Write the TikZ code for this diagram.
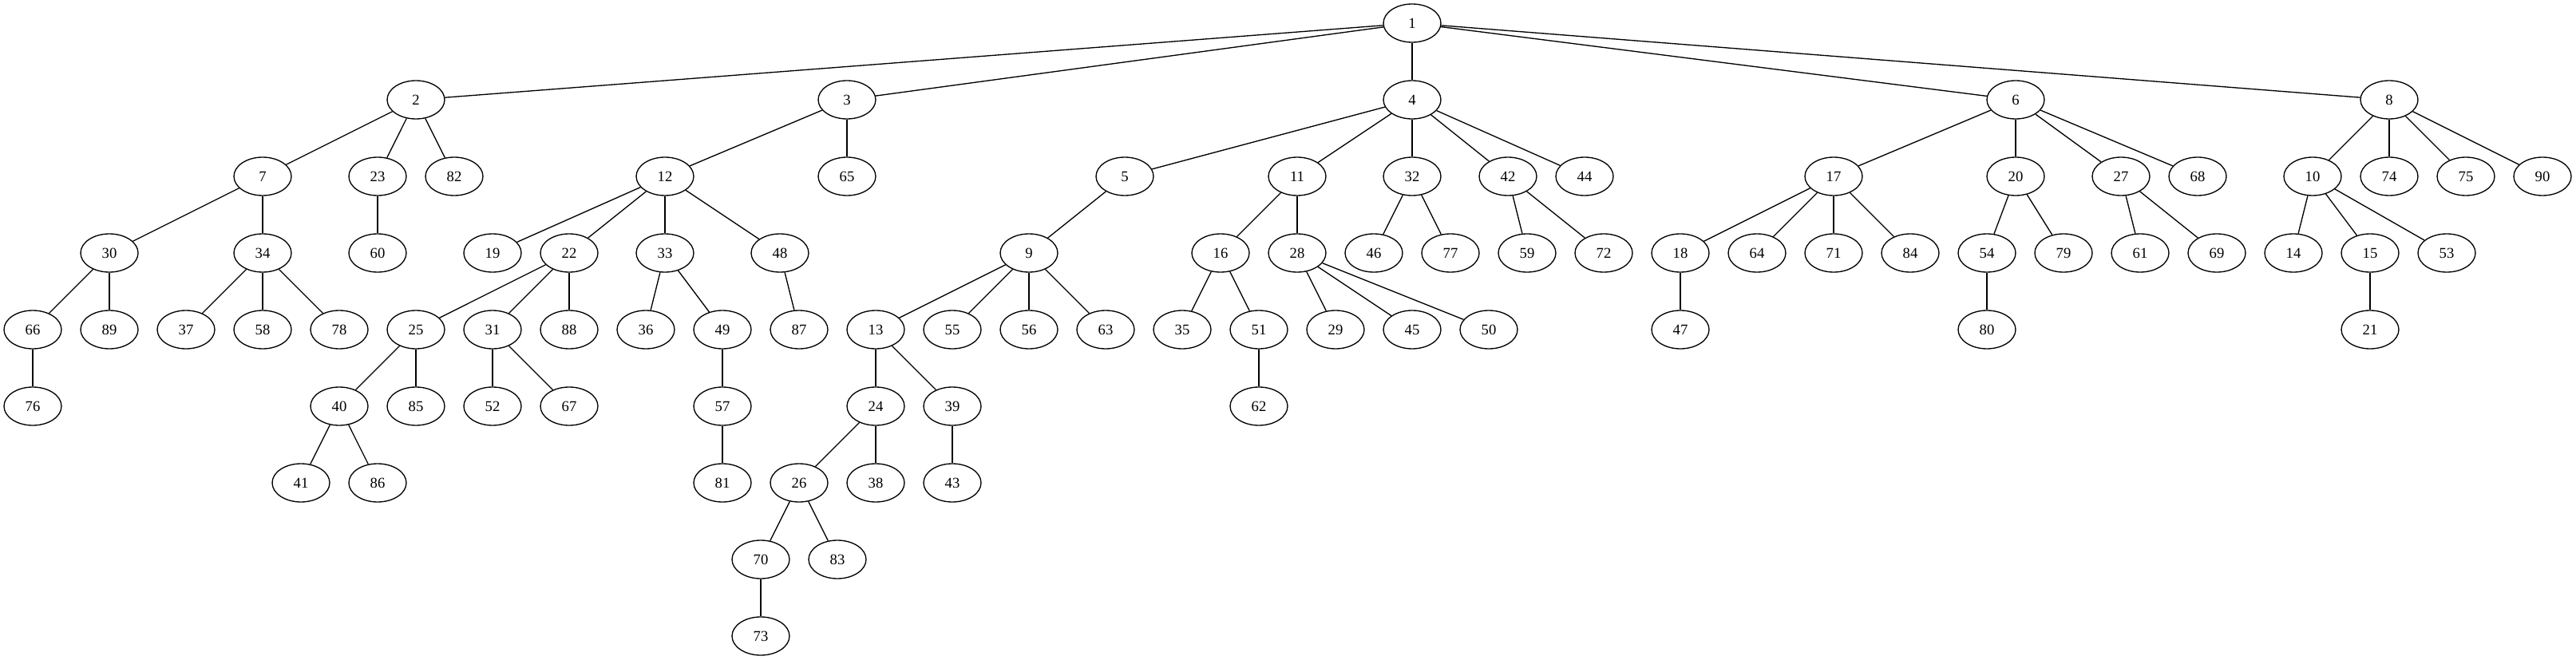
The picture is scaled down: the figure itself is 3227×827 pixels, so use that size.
\documentclass[tikz,border=0pt]{standalone}
\usepackage{fontspec}
\setmainfont{Liberation Serif}
\usetikzlibrary{shapes.geometric}
\begin{document}
\begin{tikzpicture}[x=0.75pt,y=-0.75pt,
  nd/.style={draw,ellipse,line width=1pt,minimum width=54pt,minimum height=36pt,inner sep=0pt,font=\fontsize{14}{16}\selectfont},
  ed/.style={line width=1pt}]
\useasboundingbox (0,0) rectangle (3227,827);
\foreach \n/\x/\r in {
 1/1769/0,
 2/521/1, 3/1061/1, 4/1769/1, 6/2525/1, 8/2993/1,
 7/329/2, 23/473/2, 82/569/2, 12/833/2, 65/1061/2, 5/1409/2, 11/1625/2, 32/1769/2, 42/1889/2, 44/1985/2, 17/2297/2, 20/2525/2, 27/2657/2, 68/2753/2, 10/2897/2, 74/2993/2, 75/3089/2, 90/3185/2,
 30/137/3, 34/329/3, 60/473/3, 19/617/3, 22/713/3, 33/833/3, 48/977/3, 9/1289/3, 16/1529/3, 28/1625/3, 46/1721/3, 77/1817/3, 59/1913/3, 72/2009/3, 18/2105/3, 64/2201/3, 71/2297/3, 84/2393/3, 54/2489/3, 79/2585/3, 61/2681/3, 69/2777/3, 14/2873/3, 15/2969/3, 53/3065/3,
 66/41/4, 89/137/4, 37/233/4, 58/329/4, 78/425/4, 25/521/4, 31/617/4, 88/713/4, 36/809/4, 49/905/4, 87/1001/4, 13/1097/4, 55/1193/4, 56/1289/4, 63/1385/4, 35/1481/4, 51/1577/4, 29/1673/4, 45/1769/4, 50/1865/4, 47/2105/4, 80/2489/4, 21/2969/4,
 76/41/5, 40/425/5, 85/521/5, 52/617/5, 67/713/5, 57/905/5, 24/1097/5, 39/1193/5, 62/1577/5,
 41/377/6, 86/473/6, 81/905/6, 26/1001/6, 38/1097/6, 43/1193/6,
 70/953/7, 83/1049/7,
 73/953/8}
  \node[nd] (n\n) at (\x,{29+96*\r}) {\n};
\foreach \a/\b in {
 1/2,1/3,1/4,1/6,1/8,
 2/7,2/23,2/82,
 3/12,3/65,
 4/5,4/11,4/32,4/42,4/44,
 6/17,6/20,6/27,6/68,
 8/10,8/74,8/75,8/90,
 7/30,7/34,
 23/60,
 12/19,12/22,12/33,12/48,
 5/9,
 11/16,11/28,
 32/46,32/77,
 42/59,42/72,
 17/18,17/64,17/71,17/84,
 20/54,20/79,
 27/61,27/69,
 10/14,10/15,10/53,
 30/66,30/89,
 34/37,34/58,34/78,
 22/25,22/31,22/88,
 33/36,33/49,
 48/87,
 9/13,9/55,9/56,9/63,
 16/35,16/51,
 28/29,28/45,28/50,
 18/47,
 54/80,
 15/21,
 66/76,
 25/40,25/85,
 31/52,31/67,
 49/57,
 13/24,13/39,
 51/62,
 40/41,40/86,
 57/81,
 24/26,24/38,
 39/43,
 26/70,26/83,
 70/73}
  \draw[ed] (n\a) -- (n\b);
\end{tikzpicture}
\end{document}
